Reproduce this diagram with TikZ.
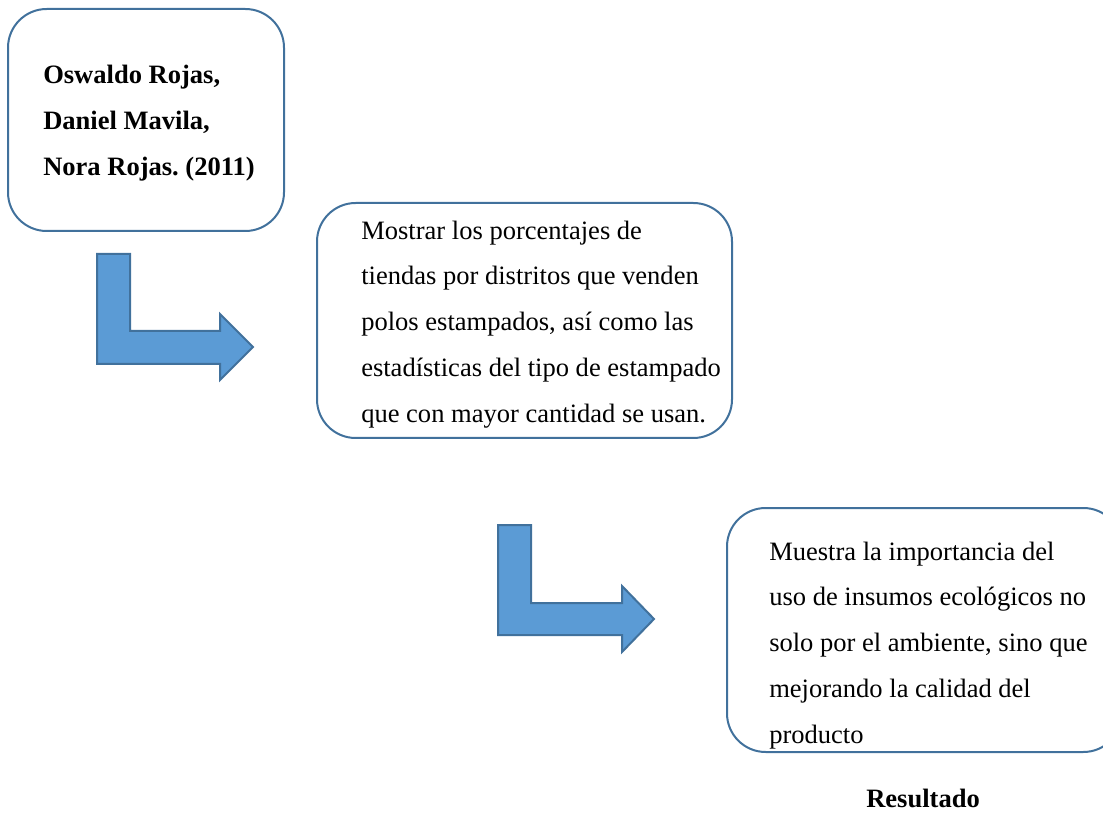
\documentclass[tikz,border=0pt]{standalone}
\usepackage{fontspec}
\setmainfont{Liberation Serif}
\frenchspacing
\definecolor{edgeblue}{HTML}{41719C}
\definecolor{fillblue}{HTML}{5B9BD5}
\begin{document}
\begin{tikzpicture}[x=0.75pt,y=-0.75pt,
  card/.style={draw=edgeblue, line width=1.5pt, rounded corners=29pt, fill=white, inner sep=0pt},
  bodytext/.style={anchor=base west, align=left, inner sep=0pt,
    font=\fontsize{19.9pt}{34.3pt}\selectfont},
  bentarrow/.style={fill=fillblue, draw=edgeblue, line width=1.5pt, line join=miter}]
\useasboundingbox (0,0) rectangle (1103,816);
\clip (0,0) rectangle (1103,816);

% rounded text cards
\node[card, minimum width=207pt, minimum height=166.5pt] (authors) at (146,120) {};
\node[card, minimum width=311.25pt, minimum height=176.25pt] (aim) at (524.5,320.5) {};
\node[card, minimum width=296.25pt, minimum height=183pt] (result) at (924.5,630) {};

% texts inside the cards (anchored at the baseline of their last line)
\node[bodytext, font=\fontsize{19.9pt}{34.5pt}\selectfont\bfseries] (authorsText) at (43,176)
  {Oswaldo Rojas,\\Daniel Mavila,\\Nora Rojas. (2011)};
\node[bodytext] (aimText) at (361,422)
  {Mostrar los porcentajes de\\tiendas por distritos que venden\\polos estampados, así como las\\estadísticas del tipo de estampado\\que con mayor cantidad se usan.};
\node[bodytext] (resultText) at (769,743)
  {Muestra la importancia del\\uso de insumos ecológicos no\\solo por el ambiente, sino que\\mejorando la calidad del\\producto};
\node[anchor=base west, inner sep=0pt, font=\fontsize{19.9pt}{24pt}\selectfont\bfseries] (caption) at (866,807) {Resultado};

% bent block arrows
\draw[bentarrow] (97,254) -- (130,254) -- (130,331) -- (220,331) -- (220,314)
  -- (253,347) -- (220,380) -- (220,364) -- (97,364) -- cycle;
\draw[bentarrow] (498,525) -- (531,525) -- (531,603) -- (622,603) -- (622,586)
  -- (654,619) -- (622,652) -- (622,635) -- (498,635) -- cycle;
\end{tikzpicture}
\end{document}
